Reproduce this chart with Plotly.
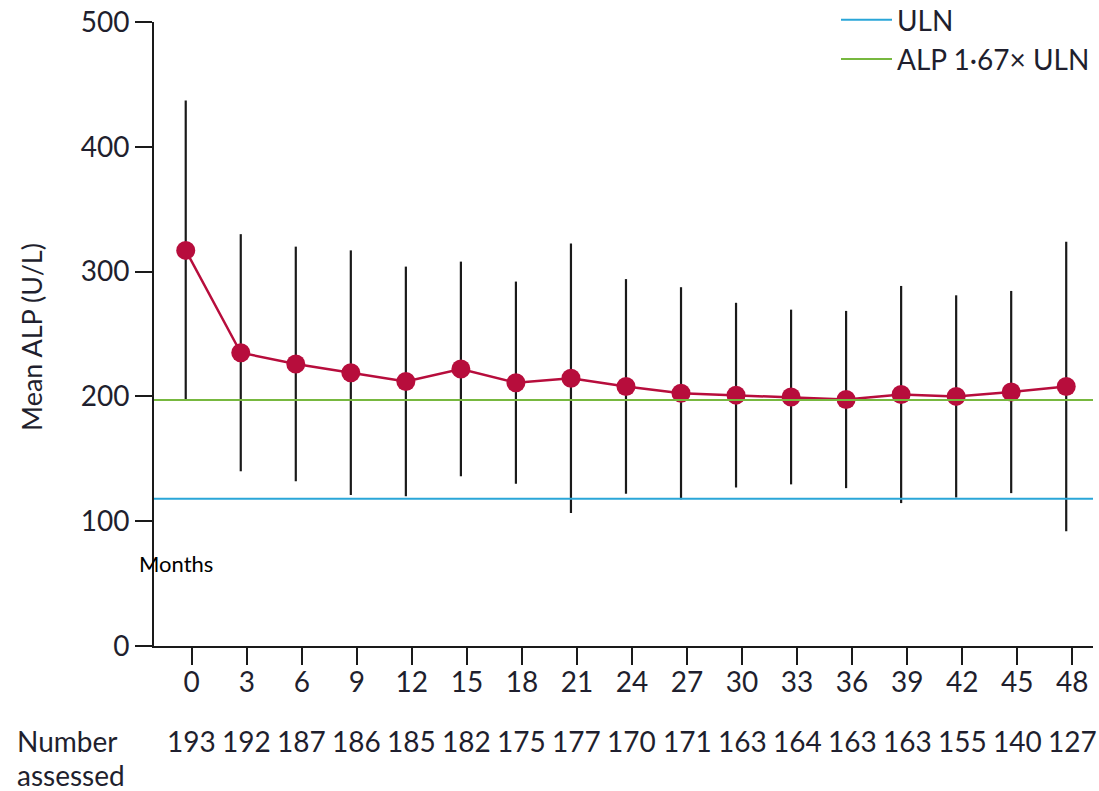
import plotly.graph_objects as go

# Visits (months since baseline) and patient counts at each visit
months = [0, 3, 6, 9, 12, 15, 18, 21, 24, 27, 30, 33, 36, 39, 42, 45, 48]
number_assessed = [193, 192, 187, 186, 185, 182, 175, 177, 170, 171, 163, 164, 163, 163, 155, 140, 127]

# Mean ALP (U/L) and its SD at each visit
mean_alp = [317, 235, 226, 219, 212, 222, 211, 214.5, 208, 202.5, 201, 199.5, 197.5, 201.5, 200, 203.5, 208]
sd_alp = [120, 95, 94, 98, 92, 86, 81, 108, 86, 85, 74, 70, 71, 87, 81, 81, 116]

# Reference thresholds
uln = 118
alp_ratio = 1.67

y_ticks = [0, 100, 200, 300, 400, 500]

TEXT = "#1f1f2e"
FONT = "Lato"
RED = "#b70d3c"
BLUE = "#2aa6d8"
GREEN = "#77b83f"

W, H = 1099, 791
ML, MR, MT, MB = 154, 6, 22, 145
plot_w = W - ML - MR
plot_h = H - MT - MB

x_range = [-1.73, 49.46]
tick_shift = 0.327  # month labels sit slightly right of the data columns

fig = go.Figure()

fig.add_trace(go.Scatter(
    x=months, y=mean_alp,
    mode="lines+markers",
    line=dict(color=RED, width=2.5),
    marker=dict(color=RED, size=19),
    error_y=dict(type="data", array=sd_alp, symmetric=True,
                 color="#1a1a1a", thickness=2.2, width=0),
    showlegend=False,
    hoverinfo="skip",
))

# empty trace so the month axis is drawn
fig.add_trace(go.Scatter(x=[], y=[], xaxis="x2", showlegend=False, hoverinfo="skip"))

fig.add_hline(y=uln, line=dict(color=BLUE, width=2), showlegend=True, name="ULN")
fig.add_hline(y=uln * alp_ratio, line=dict(color=GREEN, width=2), showlegend=True,
              name="ALP 1·67× ULN")

fig.update_layout(
    width=W, height=H,
    margin=dict(l=ML, r=MR, t=MT, b=MB, pad=0, autoexpand=False),
    paper_bgcolor="white", plot_bgcolor="white",
    font=dict(family=FONT, color=TEXT, size=28),
    xaxis=dict(range=x_range, visible=False),
    xaxis2=dict(
        overlaying="x", anchor="y", side="bottom",
        range=[x_range[0] - tick_shift, x_range[1] - tick_shift],
        tickvals=months, ticktext=[str(m) for m in months],
        ticks="outside", ticklen=17, tickwidth=2, tickcolor="#1a1a1a",
        ticklabelstandoff=-7,
        showline=True, linewidth=2, linecolor="#1a1a1a",
        showgrid=False, zeroline=False,
        tickfont=dict(family=FONT, size=28, color=TEXT),
    ),
    yaxis=dict(
        range=[0, 500], tickvals=y_ticks,
        ticks="outside", ticklen=17, tickwidth=2, tickcolor="#1a1a1a",
        showline=True, linewidth=2, linecolor="#1a1a1a",
        showgrid=False, zeroline=False,
        tickfont=dict(family=FONT, size=28, color=TEXT),
    ),
    legend=dict(
        x=(836 - ML) / plot_w, xanchor="left",
        y=1 + 27 / plot_h, yanchor="top",
        bgcolor="rgba(0,0,0,0)", borderwidth=0,
        font=dict(family=FONT, size=28, color=TEXT),
        itemwidth=51, tracegroupgap=0,
    ),
)

def px_x(p):
    return (p - ML) / plot_w

def px_y(p):
    return (H - MB - p) / plot_h

# Y-axis title
fig.add_annotation(
    text="Mean ALP (U/L)", textangle=-90,
    xref="paper", yref="paper", x=px_x(31), y=px_y(337),
    xanchor="center", yanchor="middle", showarrow=False,
    font=dict(family=FONT, size=27, color=TEXT),
)

# "Months" caption
fig.add_annotation(
    text="Months",
    xref="paper", yref="paper", x=px_x(176), y=px_y(563),
    xanchor="center", yanchor="middle", showarrow=False,
    font=dict(family=FONT, size=22, color="black"),
)

# Number-assessed row
fig.add_annotation(
    text="Number",
    xref="paper", yref="paper", x=px_x(16), y=px_y(741),
    xanchor="left", yanchor="middle", showarrow=False, borderpad=0,
    font=dict(family=FONT, size=28, color=TEXT),
)
fig.add_annotation(
    text="assessed",
    xref="paper", yref="paper", x=px_x(16), y=px_y(775),
    xanchor="left", yanchor="middle", showarrow=False, borderpad=0,
    font=dict(family=FONT, size=28, color=TEXT),
)
for m, n in zip(months, number_assessed):
    fig.add_annotation(
        text=str(n), xref="x2", yref="paper", x=m, y=px_y(741),
        xanchor="center", yanchor="middle", showarrow=False,
        font=dict(family=FONT, size=28, color=TEXT),
    )

fig.write_html("out.html")
